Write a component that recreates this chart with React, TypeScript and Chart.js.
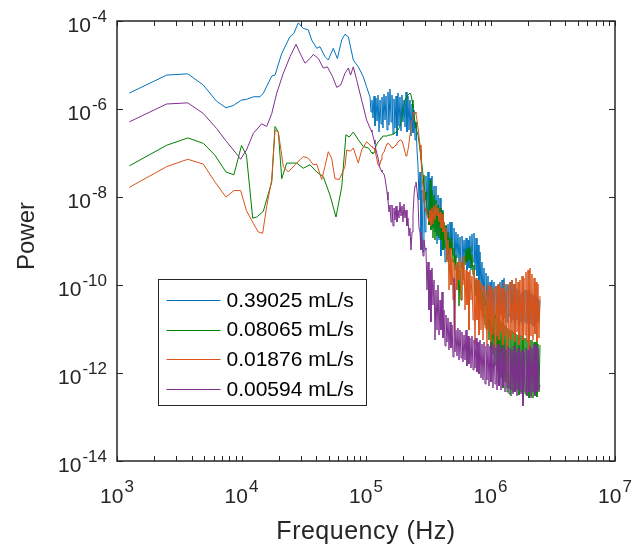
import React, { useEffect, useRef } from "react";
import { Chart, registerables } from "chart.js";

Chart.register(...registerables);

// ---------- labels & styling ----------
const SERIES_LABELS = ["0.39025 mL/s", "0.08065 mL/s", "0.01876 mL/s", "0.00594 mL/s"];
const SERIES_COLORS = ["#0072BD", "#008000", "#D95319", "#7E2F8E"];
const X_TICK_EXPONENTS = [3, 4, 5, 6, 7];
const X_MINOR_MULTIPLIERS = [2, 3, 4, 5, 6, 7, 8, 9];
const Y_TICK_EXPONENTS = [-4, -6, -8, -10, -12, -14];
const X_TITLE = "Frequency (Hz)";
const Y_TITLE = "Power";

// ---------- low-frequency (smooth) parts ----------
const blueLowFreq = [1256, 2506, 3700, 4935, 6310, 7500, 8590, 10000, 11000, 12500, 14100, 15000, 17500, 18600, 21000, 24500, 26300, 28600, 31300, 34400, 36600, 40200, 42700, 46800, 49800, 54600, 58900, 63800, 67800, 72100, 79100, 86700, 95100, 101000];
const blueLowPower = [2.3e-6, 5.9e-6, 6.3e-6, 3.5e-6, 1.5e-6, 1.07e-6, 1.2e-6, 1.6e-6, 1.66e-6, 1.9e-6, 1.9e-6, 2.3e-6, 5.6e-6, 5.9e-6, 1.8e-5, 4.4e-5, 5.2e-5, 9.1e-5, 6.8e-5, 6.3e-5, 3.7e-5, 2.4e-5, 2.6e-5, 1.55e-5, 1.3e-5, 2.4e-5, 1.4e-5, 3.7e-5, 5.0e-5, 4.4e-5, 1.3e-5, 9.1e-6, 5.4e-6, 3.2e-6];

const greenLowFreq = [1256, 2506, 3700, 4935, 6120, 7500, 8690, 10000, 10960, 12300, 13240, 14960, 17500, 18580, 19770, 21040, 23070, 27730, 31330, 35480, 40180, 45390, 51400, 57410, 63830, 69020, 73450, 79070, 86700, 95060, 104500];
const greenLowPower = [5.1e-8, 1.5e-7, 2.2e-7, 1.66e-7, 8.9e-8, 3.7e-8, 3.2e-8, 1.48e-7, 8.9e-8, 3.3e-9, 3.5e-9, 4.7e-9, 2.2e-8, 4e-7, 3e-7, 2.6e-8, 5.9e-8, 5.9e-8, 4.5e-8, 5.4e-8, 3.7e-8, 2.9e-8, 1.1e-8, 3.5e-9, 1.7e-8, 2.6e-7, 2.3e-7, 3e-7, 2e-7, 1.4e-7, 1.3e-7];

const orangeLowFreq = [1256, 2506, 3700, 4935, 6120, 7500, 8690, 9840, 10960, 12450, 13650, 14790, 15920, 17500, 18580, 19770, 21680, 23770, 26920, 31330, 34440, 37760, 40180, 44060, 46770, 49770, 52970, 56360, 61090, 67760, 69980, 74970, 79070, 86700, 92250, 101200];
const orangeLowPower = [1.66e-8, 4.9e-8, 7.2e-8, 5.6e-8, 2.2e-8, 1e-8, 1.4e-8, 1.4e-8, 4.9e-9, 2.5e-9, 1.6e-9, 1.5e-9, 6e-9, 2.5e-8, 3.3e-7, 3e-7, 4.9e-8, 3.7e-8, 5.4e-8, 8.3e-8, 7.6e-8, 5.4e-8, 5.6e-8, 2.5e-8, 4.9e-8, 1.07e-7, 7.6e-8, 2.6e-8, 2.5e-8, 4.9e-8, 1.17e-7, 1.1e-7, 1.3e-7, 5.9e-8, 1.17e-7, 1.8e-7];

const purpleLowFreq = [1256, 2506, 3700, 4935, 6310, 7600, 9140, 9840, 10960, 12450, 14520, 15920, 17500, 19190, 21680, 24550, 27420, 29510, 32360, 35480, 37760, 41460, 45390, 48870, 53950, 58210, 62660, 67760, 72100, 75160, 79070, 84070, 92250, 101200];
const purpleLowPower = [5.1e-7, 1.3e-6, 1.38e-6, 7.9e-7, 3.6e-7, 1.8e-7, 9.5e-8, 7.2e-8, 1.17e-7, 2.8e-7, 4.6e-7, 4e-7, 7.9e-7, 2.3e-6, 6.5e-6, 1.55e-5, 2.95e-5, 1.86e-5, 1.1e-5, 1.4e-5, 1.74e-5, 1.4e-5, 8.5e-6, 9.1e-6, 5.4e-6, 3.1e-6, 3.5e-6, 6.5e-6, 8.5e-6, 5.9e-6, 9.1e-6, 4.6e-6, 1.6e-6, 5.6e-7];

// ---------- high-frequency (noisy) parts, shared frequency list ----------
const hfFreq = [
  1.077e5, 1.097e5, 1.117e5, 1.138e5, 1.160e5, 1.181e5, 1.203e5, 1.226e5, 1.249e5, 1.272e5,
  1.296e5, 1.320e5, 1.344e5, 1.369e5, 1.395e5, 1.421e5, 1.448e5, 1.475e5, 1.502e5, 1.530e5,
  1.559e5, 1.588e5, 1.617e5, 1.648e5, 1.678e5, 1.710e5, 1.742e5, 1.774e5, 1.807e5, 1.841e5,
  1.875e5, 1.910e5, 1.946e5, 1.982e5, 2.019e5, 2.057e5, 2.096e5, 2.134e5, 2.174e5, 2.215e5,
  2.256e5, 2.298e5, 2.342e5, 2.385e5, 2.430e5, 2.475e5, 2.521e5, 2.568e5, 2.616e5, 2.665e5,
  2.715e5, 2.765e5, 2.817e5, 2.870e5, 2.923e5, 2.978e5, 3.033e5, 3.090e5, 3.148e5, 3.206e5,
  3.270e5, 3.327e5, 3.390e5, 3.453e5, 3.520e5, 3.583e5, 3.650e5, 3.718e5, 3.790e5, 3.858e5,
  3.930e5, 4.003e5, 4.080e5, 4.154e5, 4.230e5, 4.311e5, 4.390e5, 4.473e5, 4.560e5, 4.642e5,
  4.730e5, 4.816e5, 4.910e5, 4.998e5, 5.090e5, 5.186e5, 5.280e5, 5.381e5, 5.480e5, 5.585e5,
  5.690e5, 5.795e5, 5.900e5, 6.013e5, 6.130e5, 6.240e5, 6.360e5, 6.475e5, 6.600e5, 6.719e5,
  6.840e5, 6.972e5, 7.100e5, 7.235e5, 7.370e5, 7.507e5, 7.650e5, 7.790e5, 7.940e5, 8.084e5,
  8.240e5, 8.389e5, 8.550e5, 8.705e5, 8.870e5, 9.033e5, 9.200e5, 9.373e5, 9.550e5, 9.727e5,
  9.910e5, 1.009e6, 1.028e6, 1.047e6, 1.067e6, 1.087e6, 1.107e6, 1.128e6, 1.149e6, 1.170e6,
  1.192e6, 1.214e6, 1.237e6, 1.260e6, 1.284e6, 1.308e6, 1.332e6, 1.357e6, 1.382e6, 1.408e6,
  1.434e6, 1.461e6, 1.488e6, 1.516e6, 1.545e6, 1.573e6, 1.603e6, 1.633e6, 1.663e6, 1.694e6,
  1.726e6, 1.758e6, 1.791e6, 1.824e6, 1.858e6, 1.893e6, 1.928e6, 1.964e6, 2.001e6, 2.038e6,
  2.077e6, 2.115e6, 2.155e6, 2.195e6, 2.236e6, 2.277e6, 2.320e6, 2.363e6, 2.407e6, 2.452e6,
  2.498e6,
];

const blueHfPower = [
  1.87e-6, 8.55e-7, 1.6e-6, 6.24e-7, 1.97e-6, 4.11e-7, 1.78e-6, 5.34e-7, 2.08e-6, 3.0e-7,
  1.6e-6, 4.56e-7, 1.87e-6, 3.7e-7, 2.19e-6, 5.62e-7, 1.97e-6, 3.33e-7, 2.43e-6, 4.33e-7,
  2.85e-6, 5.06e-7, 2.08e-6, 2.7e-7, 1.69e-6, 3.7e-7, 1.97e-6, 2.43e-7, 2.31e-6, 4.11e-7,
  1.87e-6, 3.16e-7, 2.08e-6, 5.06e-7, 1.6e-6, 3.9e-7, 2.43e-6, 3.0e-7, 1.97e-6, 3.33e-7,
  1.6e-6, 2.43e-7, 1.3e-6, 2.85e-7, 9.49e-7, 1.97e-7, 5.06e-7, 1.17e-7, 5.34e-8, 8.55e-9,
  3.7e-8, 1.05e-9, 1.44e-8, 5.62e-10, 1.87e-8, 1.6e-9, 3.0e-8, 3.9e-9, 3.7e-8, 2.31e-9,
  2.7e-8, 3.0e-9, 3.0e-8, 1.97e-9, 1.78e-8, 1.6e-9, 1.78e-8, 8.55e-10, 1.11e-8, 1.05e-9,
  9.49e-9, 4.56e-10, 5.06e-9, 6.24e-10, 2.7e-9, 3.33e-10, 2.19e-9, 4.81e-10, 2.43e-9, 3.33e-10,
  2.7e-9, 6.24e-10, 2.7e-9, 4.81e-10, 1.97e-9, 3.33e-10, 1.6e-9, 4.11e-10, 1.44e-9, 3.33e-10,
  1.23e-9, 2.43e-10, 1.3e-9, 3.33e-10, 1.05e-9, 3.33e-10, 1.17e-9, 2.19e-10, 1.05e-9, 2.43e-10,
  1.3e-9, 2.19e-10, 1.44e-9, 3.33e-10, 1.52e-9, 2.19e-10, 1.17e-9, 1.6e-10, 8.11e-10, 8.55e-11,
  5.62e-10, 6.93e-11, 3.33e-10, 4.56e-11, 2.43e-10, 3.51e-11, 1.87e-10, 2.7e-11, 1.6e-10, 2.43e-11,
  1.17e-10, 2.08e-11, 1.3e-10, 2.43e-11, 1.17e-10, 1.78e-11, 9.49e-11, 2.08e-11, 1e-10, 1.78e-11,
  1.17e-10, 2.08e-11, 1.3e-10, 1.6e-11, 1.44e-10, 1.78e-11, 1.05e-10, 1.44e-11, 1e-10, 1.97e-11,
  1.17e-10, 1.44e-11, 1.3e-10, 1.6e-11, 1.05e-10, 1.3e-11, 8.55e-11, 1.6e-11, 7.7e-11, 1.17e-11,
  6.24e-11, 1.44e-11, 6.93e-11, 1.17e-11, 7.7e-11, 1.44e-11, 7.7e-11, 1.3e-11, 7.7e-11, 1.17e-11,
  6.93e-11, 1.3e-11, 6.24e-11, 1.17e-11, 5.93e-11, 1.17e-11, 5.34e-11, 1.44e-11, 5.06e-11, 1.44e-11,
  4.56e-11,
];

const greenHfPower = [
  1.17e-7, 1.05e-7, 1e-7, 9.49e-8, 1.05e-7, 1.23e-7, 1.44e-7, 1.6e-7, 1.78e-7, 1.87e-7,
  1.97e-7, 2.19e-7, 2.31e-7, 2.43e-7, 2.43e-7, 2.43e-7, 2.43e-7, 2.43e-7, 2.43e-7, 2.56e-7,
  2.56e-7, 2.56e-7, 2.56e-7, 2.7e-7, 2.7e-7, 2.85e-7, 3.0e-7, 3.16e-7, 3.33e-7, 3.7e-7,
  4.11e-7, 5.06e-7, 6.24e-7, 8.55e-7, 1.17e-6, 1.6e-6, 1.78e-6, 1.97e-6, 2.08e-6, 2.19e-6,
  2.31e-6, 2.08e-6, 1.6e-6, 1.05e-6, 7.31e-7, 5.06e-7, 3.7e-7, 3.0e-7, 2.56e-7, 1.78e-7,
  1.17e-7, 7.7e-8, 5.34e-8, 3.16e-8, 1.87e-8, 1.3e-8, 8.55e-9, 5.93e-9, 4.11e-9, 2.31e-9,
  2.43e-8, 1.78e-9, 1.44e-8, 1.17e-9, 1.11e-8, 1.05e-9, 8.55e-9, 1.3e-9, 6.58e-9, 1.17e-9,
  5.62e-9, 1.05e-9, 4.56e-9, 6.24e-10, 2.7e-9, 6.93e-10, 2.31e-9, 3.7e-10, 1.6e-9, 4.81e-10,
  1.17e-9, 6.24e-10, 9.49e-10, 3.33e-10, 6.93e-10, 2.19e-10, 4.81e-10, 7.7e-11, 3.33e-10, 3.33e-11,
  2.19e-10, 4.56e-11, 3.33e-10, 1.3e-10, 4.56e-10, 2.85e-10, 6.24e-10, 3.33e-10, 6.93e-10, 3.7e-10,
  7.31e-10, 2.43e-10, 4.81e-10, 1.69e-10, 2.85e-10, 5.62e-11, 1.3e-10, 4.56e-11, 9.49e-11, 3.51e-11,
  9.01e-11, 2.7e-11, 6.93e-11, 1.78e-11, 5.62e-11, 1.23e-11, 4.56e-11, 9.49e-12, 3.51e-11, 5.62e-12,
  3.33e-11, 3.33e-12, 2.7e-11, 2.56e-12, 2.43e-11, 1.52e-12, 2.08e-11, 1.17e-12, 1.78e-11, 5.34e-13,
  1.6e-11, 7.7e-13, 1.44e-11, 4.56e-13, 1.23e-11, 6.24e-13, 1.17e-11, 3.7e-13, 1.05e-11, 4.56e-13,
  9.49e-12, 3.0e-13, 9.49e-12, 3.7e-13, 8.55e-12, 3.7e-13, 7.7e-12, 4.11e-13, 7.31e-12, 3.16e-13,
  7.31e-12, 3.7e-13, 6.93e-12, 2.7e-13, 6.24e-12, 3.33e-13, 6.24e-12, 3.0e-13, 5.62e-12, 2.7e-13,
  5.62e-12, 3.0e-13, 5.62e-12, 2.7e-13, 5.06e-12, 3.33e-13, 5.06e-12, 2.85e-13, 4.56e-12, 3.7e-13,
  4.33e-12,
];

const orangeHfPower = [
  1.52e-7, 1.44e-7, 1.37e-7, 1.3e-7, 1.3e-7, 1.11e-7, 9.01e-8, 6.93e-8, 5.34e-8, 5.06e-8,
  5.62e-8, 6.93e-8, 9.01e-8, 1e-7, 1.05e-7, 1.23e-7, 1.44e-7, 1.6e-7, 1.69e-7, 1.6e-7,
  1.52e-7, 1.37e-7, 1.3e-7, 1.3e-7, 1.3e-7, 1.44e-7, 1.52e-7, 1.69e-7, 1.78e-7, 1.87e-7,
  1.97e-7, 1.97e-7, 1.87e-7, 1.6e-7, 1.3e-7, 1.05e-7, 8.55e-8, 9.49e-8, 1.17e-7, 1.69e-7,
  2.56e-7, 3.9e-7, 5.62e-7, 7.31e-7, 8.55e-7, 8.55e-7, 7.7e-7, 5.62e-7, 3.7e-7, 2.43e-7,
  1.52e-7, 6.93e-8, 3.16e-8, 1.44e-8, 7.7e-9, 5.62e-9, 4.56e-9, 3.9e-9, 3.33e-9, 2.7e-9,
  5.06e-9, 2.19e-9, 5.62e-9, 2.43e-9, 6.24e-9, 3.0e-9, 6.93e-9, 3.7e-9, 5.62e-9, 2.7e-9,
  4.56e-9, 1.97e-9, 4.11e-9, 1.6e-9, 2.7e-9, 1.05e-9, 1.97e-9, 3.33e-10, 1.05e-9, 7.7e-11,
  6.93e-10, 1e-10, 4.11e-10, 4.56e-11, 3.33e-10, 9.49e-12, 2.85e-10, 7.7e-11, 3.33e-10, 1.3e-10,
  4.11e-10, 4.56e-11, 3.33e-10, 1e-10, 4.56e-10, 2.7e-11, 2.19e-10, 3.51e-11, 1.97e-10, 9.49e-12,
  2.19e-10, 4.56e-11, 1.6e-10, 1.6e-11, 2.19e-10, 4.33e-12, 1.44e-10, 1.6e-11, 1.3e-10, 7.31e-12,
  1.17e-10, 9.49e-12, 1.05e-10, 5.62e-12, 9.49e-11, 1.05e-11, 7.7e-11, 4.11e-12, 1.05e-10, 8.55e-12,
  9.49e-11, 5.06e-12, 7.7e-11, 7.31e-12, 8.55e-11, 3.33e-12, 9.49e-11, 6.93e-12, 1.05e-10, 5.62e-12,
  9.49e-11, 8.55e-12, 8.55e-11, 4.33e-12, 1.17e-10, 6.93e-12, 7.7e-11, 5.93e-13, 1.05e-10, 6.24e-12,
  1.17e-10, 5.62e-12, 1.3e-10, 7.7e-12, 1.05e-10, 5.06e-12, 1.44e-10, 8.55e-12, 1.17e-10, 4.33e-12,
  1.3e-10, 6.93e-12, 1.6e-10, 5.62e-12, 1.44e-10, 7.31e-12, 1.97e-10, 5.06e-12, 2.19e-10, 5.06e-13,
  2.43e-10, 6.93e-12, 1.78e-10, 5.62e-12, 1.44e-10, 7.7e-12, 1.17e-10, 5.06e-12, 1.05e-10, 6.24e-12,
  5.62e-11,
];

const purpleHfPower = [
  3.7e-7, 3.33e-7, 3.0e-7, 2.43e-7, 1.97e-7, 1.6e-7, 1.17e-7, 9.49e-8, 7.7e-8, 5.93e-8,
  4.56e-8, 4.11e-8, 3.7e-8, 3.51e-8, 3.33e-8, 2.7e-8, 1.87e-8, 1.3e-8, 8.55e-9, 4.56e-9,
  6.58e-9, 2.7e-9, 6.58e-9, 2.19e-9, 5.62e-9, 3.0e-9, 6.24e-9, 2.7e-9, 5.06e-9, 3.33e-9,
  7.7e-9, 3.7e-9, 6.24e-9, 2.7e-9, 6.93e-9, 3.33e-9, 5.06e-9, 2.19e-9, 3.33e-9, 1.3e-9,
  1.97e-9, 6.24e-10, 1.6e-9, 3.9e-9, 1.11e-8, 1.78e-8, 2.19e-8, 1.44e-8, 8.55e-9, 1.97e-9,
  1.6e-9, 6.24e-10, 1.17e-9, 4.56e-10, 1.05e-9, 6.93e-10, 6.24e-10, 7.7e-11, 3.33e-10, 2.7e-11,
  2.19e-10, 1.44e-11, 2.43e-10, 3.51e-11, 1.3e-10, 5.62e-12, 7.7e-11, 9.49e-12, 1e-10, 7.31e-12,
  4.56e-11, 9.49e-12, 6.93e-11, 6.24e-12, 2.7e-11, 4.11e-12, 2.08e-11, 5.06e-12, 1.78e-11, 3.33e-12,
  1.44e-11, 3.7e-12, 1.23e-11, 2.31e-12, 1.44e-10, 3.0e-12, 9.49e-12, 2.43e-12, 1.05e-11, 1.97e-12,
  9.49e-12, 2.19e-12, 8.55e-12, 1.78e-12, 7.31e-12, 1.97e-12, 9.49e-12, 1.44e-12, 6.93e-12, 1.6e-12,
  6.24e-12, 1.3e-12, 6.93e-12, 1.17e-12, 5.62e-12, 1.3e-12, 6.24e-12, 1.05e-12, 5.06e-12, 9.49e-13,
  5.62e-12, 7.7e-13, 4.56e-12, 6.93e-13, 5.06e-12, 5.62e-13, 4.11e-12, 6.93e-13, 4.56e-12, 5.06e-13,
  4.11e-12, 6.24e-13, 5.06e-12, 4.56e-13, 4.33e-12, 5.62e-13, 3.7e-12, 4.11e-13, 4.56e-12, 5.06e-13,
  4.11e-12, 4.11e-13, 3.7e-12, 5.06e-13, 4.33e-12, 3.7e-13, 3.33e-12, 4.56e-13, 4.11e-12, 3.33e-13,
  3.7e-12, 4.11e-13, 3.33e-12, 3.33e-13, 4.11e-12, 3.7e-13, 3.0e-12, 3.0e-13, 3.7e-12, 4.11e-13,
  3.0e-12, 3.33e-13, 3.33e-12, 1.78e-13, 3.0e-12, 3.7e-13, 3.7e-12, 3.0e-13, 3.33e-12, 3.7e-13,
  4.11e-12, 2.7e-13, 3.7e-12, 3.7e-13, 4.56e-12, 3.0e-13, 4.11e-12, 3.7e-13, 3.7e-12, 4.11e-13,
  5.34e-13,
];

const seriesFreq = [
  [...blueLowFreq, ...hfFreq],
  [...greenLowFreq, ...hfFreq],
  [...orangeLowFreq, ...hfFreq],
  [...purpleLowFreq, ...hfFreq],
];
const seriesPower = [
  [...blueLowPower, ...blueHfPower],
  [...greenLowPower, ...greenHfPower],
  [...orangeLowPower, ...orangeHfPower],
  [...purpleLowPower, ...purpleHfPower],
];

// ---------- drawing helpers ----------
const AXIS_COLOR = "#262626";
const FONT = "'Liberation Sans', Arial, Helvetica, sans-serif";
const BASE_PX = 21;
const SUP_PX = 17;

function drawPow(ctx: CanvasRenderingContext2D, exp: string, x: number, baseline: number, supBaseline: number, mode: "center" | "right") {
  ctx.font = `${BASE_PX}px ${FONT}`;
  const w1 = ctx.measureText("10").width;
  ctx.font = `${SUP_PX}px ${FONT}`;
  const w2 = ctx.measureText(exp).width;
  const total = w1 + w2 + 1;
  const start = mode === "center" ? x - total / 2 : x - total;
  ctx.textAlign = "left";
  ctx.textBaseline = "alphabetic";
  ctx.font = `${BASE_PX}px ${FONT}`;
  ctx.fillText("10", start, baseline);
  ctx.font = `${SUP_PX}px ${FONT}`;
  ctx.fillText(exp, start + w1 + 1, supBaseline);
}

const matlabAxes = {
  id: "matlabAxes",
  afterDatasetsDraw(chart: any) {
    const { ctx, chartArea: a, scales } = chart;
    const xs = scales.x;
    const ys = scales.y;
    ctx.save();
    ctx.strokeStyle = AXIS_COLOR;
    ctx.fillStyle = AXIS_COLOR;

    // ticks on x (bottom & top, inward)
    ctx.lineWidth = 1;
    const tickLen = 5;
    X_TICK_EXPONENTS.forEach((e) => {
      const vals = [Math.pow(10, e)];
      if (e < X_TICK_EXPONENTS[X_TICK_EXPONENTS.length - 1]) {
        X_MINOR_MULTIPLIERS.forEach((m) => vals.push(m * Math.pow(10, e)));
      }
      vals.forEach((v) => {
        const px = Math.round(xs.getPixelForValue(v)) + 0.5;
        ctx.beginPath();
        ctx.moveTo(px, a.bottom);
        ctx.lineTo(px, a.bottom - tickLen);
        ctx.moveTo(px, a.top);
        ctx.lineTo(px, a.top + tickLen);
        ctx.stroke();
      });
    });
    // ticks on y (left & right, inward)
    Y_TICK_EXPONENTS.forEach((e) => {
      const py = Math.round(ys.getPixelForValue(Math.pow(10, e))) + 0.5;
      ctx.beginPath();
      ctx.moveTo(a.left, py);
      ctx.lineTo(a.left + 6, py);
      ctx.moveTo(a.right, py);
      ctx.lineTo(a.right - 6, py);
      ctx.stroke();
    });

    // frame
    ctx.lineWidth = 1.5;
    ctx.strokeRect(a.left, a.top, a.right - a.left, a.bottom - a.top);

    // tick labels
    X_TICK_EXPONENTS.forEach((e) => {
      const px = xs.getPixelForValue(Math.pow(10, e));
      drawPow(ctx, String(e), px, a.bottom + 42, a.bottom + 31, "center");
    });
    Y_TICK_EXPONENTS.forEach((e) => {
      const py = ys.getPixelForValue(Math.pow(10, e));
      drawPow(ctx, String(e), a.left - 10, py + 11, py + 1, "right");
    });

    // axis titles
    ctx.font = `25px ${FONT}`;
    (ctx as any).letterSpacing = "0.5px";
    ctx.textAlign = "center";
    ctx.textBaseline = "alphabetic";
    ctx.fillText(X_TITLE, (a.left + a.right) / 2, a.bottom + 78);
    (ctx as any).letterSpacing = "0px";
    ctx.save();
    ctx.translate(34, 236);
    ctx.rotate(-Math.PI / 2);
    ctx.font = `24px ${FONT}`;
    ctx.textAlign = "center";
    ctx.fillText(Y_TITLE, 0, 0);
    ctx.restore();

    // legend
    const bx = a.left + 41.5;
    const by = a.top + 258.5;
    const bw = 208;
    const bh = 126;
    ctx.fillStyle = "#ffffff";
    ctx.fillRect(bx, by, bw, bh);
    ctx.strokeStyle = AXIS_COLOR;
    ctx.lineWidth = 1;
    ctx.strokeRect(bx, by, bw, bh);
    ctx.font = `21px ${FONT}`;
    ctx.textAlign = "left";
    ctx.textBaseline = "middle";
    chart.data.datasets.forEach((ds: any, i: number) => {
      const cy = by + 20.5 + i * 29.7;
      ctx.strokeStyle = ds.borderColor;
      ctx.lineWidth = 1;
      ctx.beginPath();
      ctx.moveTo(bx + 8, Math.round(cy) + 0.5);
      ctx.lineTo(bx + 62, Math.round(cy) + 0.5);
      ctx.stroke();
      ctx.fillStyle = "#000000";
      ctx.fillText(ds.label, bx + 68, cy + 1);
    });

    ctx.restore();
  },
};

export default function App() {
  const canvasRef = useRef<HTMLCanvasElement | null>(null);

  useEffect(() => {
    const canvas = canvasRef.current;
    if (!canvas) return;
    const datasets = SERIES_LABELS.map((label, i) => ({
      label,
      data: seriesFreq[i].map((f, j) => ({ x: f, y: seriesPower[i][j] })),
      borderColor: SERIES_COLORS[i],
      backgroundColor: SERIES_COLORS[i],
      borderWidth: 1,
      pointRadius: 0,
      tension: 0,
      fill: false,
      order: SERIES_LABELS.length - i,
    }));
    const chart = new Chart(canvas, {
      type: "line",
      data: { datasets },
      options: {
        responsive: false,
        animation: false,
        devicePixelRatio: 1,
        layout: { padding: { left: 117, top: 21, right: 27, bottom: 85 } },
        plugins: { legend: { display: false }, tooltip: { enabled: false } },
        scales: {
          x: { type: "logarithmic", min: 1e3, max: 1e7, display: false },
          y: { type: "logarithmic", min: 1e-14, max: 1e-4, display: false },
        },
      },
      plugins: [matlabAxes],
    });
    return () => chart.destroy();
  }, []);

  return (
    <div style={{ position: "fixed", left: 0, top: 0, width: 642, height: 546, background: "#ffffff" }}>
      <canvas ref={canvasRef} width={642} height={546} style={{ display: "block", width: 642, height: 546 }} />
    </div>
  );
}
